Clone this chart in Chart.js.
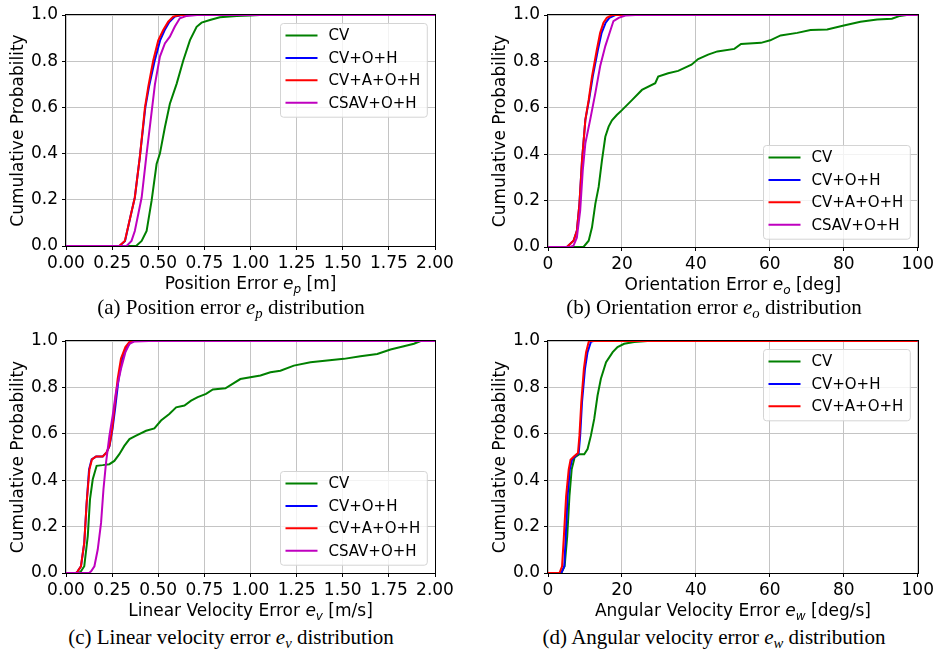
<!DOCTYPE html>
<html>
<head>
<meta charset="utf-8">
<script src="https://cdn.jsdelivr.net/npm/chart.js@4.4.1/dist/chart.umd.min.js"></script>
<style>
body { margin: 0; background: #fff; }
#page { position: relative; width: 937px; height: 650px; overflow: hidden; background: #fff; }
.panel { position: absolute; }
.caption { position: absolute; width: 470px; text-align: center; font-family: "Liberation Serif", "Times New Roman", serif;
  font-size: 21px; line-height: 21px; color: #000; white-space: nowrap; }
.caption sub { font-size: 0.7em; vertical-align: -0.25em; line-height: 0; }
</style>
</head>
<body>
<div id="page">
  <canvas class="panel" id="chartA" width="470" height="300" style="left:0;top:0"></canvas>
  <canvas class="panel" id="chartB" width="467" height="300" style="left:470px;top:0"></canvas>
  <canvas class="panel" id="chartC" width="470" height="300" style="left:0;top:325px"></canvas>
  <canvas class="panel" id="chartD" width="467" height="300" style="left:470px;top:325px"></canvas>
  <div class="caption" style="left:-4px;top:297px">(a) Position error <i>e<sub>p</sub></i> distribution</div>
  <div class="caption" style="left:479px;top:297px">(b) Orientation error <i>e<sub>o</sub></i> distribution</div>
  <div class="caption" style="left:-4px;top:627px">(c) Linear velocity error <i>e<sub>v</sub></i> distribution</div>
  <div class="caption" style="left:479px;top:627px">(d) Angular velocity error <i>e<sub>w</sub></i> distribution</div>
</div>
<script>
// series names / colours (matplotlib g, b, r, m)
const seriesLabels = ['CV', 'CV+O+H', 'CV+A+O+H', 'CSAV+O+H'];
const seriesColors = ['#008000', '#0000ff', '#ff0000', '#bf00bf'];

// (a) position error [m] : [error, cumulative probability]
const posCV = [[0,0],[0.38,0],[0.41,0.022],[0.437,0.065],[0.464,0.196],[0.491,0.355],[0.509,0.40],[0.536,0.514],[0.563,0.616],[0.60,0.703],[0.636,0.804],[0.672,0.891],[0.708,0.949],[0.735,0.967],[0.78,0.978],[0.834,0.99],[0.925,0.996],[1.0,0.998],[1.05,1],[2,1]];
const posCVOH = [[0,0],[0.29,0],[0.32,0.022],[0.35,0.13],[0.373,0.21],[0.40,0.384],[0.43,0.60],[0.45,0.69],[0.48,0.80],[0.51,0.89],[0.535,0.935],[0.56,0.97],[0.59,0.993],[0.63,1],[2,1]];
const posCVAOH = [[0,0],[0.288,0],[0.319,0.022],[0.35,0.13],[0.373,0.21],[0.40,0.384],[0.428,0.60],[0.446,0.69],[0.473,0.804],[0.50,0.89],[0.527,0.935],[0.554,0.971],[0.581,0.993],[0.62,1],[2,1]];
const posCSAV = [[0,0],[0.328,0],[0.355,0.022],[0.373,0.065],[0.41,0.21],[0.437,0.40],[0.458,0.54],[0.482,0.70],[0.509,0.82],[0.536,0.877],[0.563,0.906],[0.59,0.95],[0.617,0.986],[0.654,0.996],[0.71,1],[2,1]];

// (b) orientation error [deg]
const oriCV = [[0,0],[9.6,0],[11.0,0.027],[11.9,0.085],[12.8,0.186],[13.7,0.259],[14.6,0.374],[15.5,0.475],[16.4,0.519],[17.3,0.546],[18.6,0.569],[20.0,0.59],[22.7,0.633],[25.4,0.677],[29,0.706],[29.8,0.735],[32.5,0.749],[35.2,0.759],[38.8,0.786],[40.6,0.81],[43.3,0.829],[45.8,0.843],[50.4,0.854],[52.2,0.875],[57.6,0.88],[60.1,0.891],[62.9,0.912],[67.4,0.923],[71,0.935],[75.5,0.938],[80,0.955],[84.5,0.971],[89,0.981],[93,0.984],[95.2,0.996],[97,1],[100,1]];
const oriCVOH = [[0,0],[5.1,0],[6.9,0.027],[7.8,0.07],[8.5,0.186],[9.2,0.374],[10.1,0.548],[11.1,0.634],[12.1,0.735],[13.5,0.85],[14.5,0.923],[15.6,0.967],[16.6,0.988],[18.2,1],[100,1]];
const oriCVAOH = [[0,0],[5.1,0],[6.9,0.027],[7.8,0.07],[8.5,0.186],[9.2,0.374],[10.1,0.548],[11.0,0.634],[11.9,0.735],[13.2,0.85],[14.1,0.923],[15.0,0.967],[15.9,0.988],[17.3,1],[100,1]];
const oriCSAV = [[0,0],[6.0,0],[6.9,0.006],[7.8,0.04],[8.7,0.157],[9.4,0.33],[10.1,0.447],[11.4,0.548],[12.8,0.663],[14.1,0.779],[15.5,0.866],[16.8,0.93],[17.7,0.974],[19.1,0.988],[20.9,0.998],[23.6,1],[100,1]];

// (c) linear velocity error [m/s]
const velCV = [[0,0],[0.07,0],[0.081,0.007],[0.099,0.029],[0.118,0.159],[0.13,0.317],[0.145,0.404],[0.166,0.462],[0.199,0.465],[0.235,0.469],[0.262,0.483],[0.289,0.512],[0.316,0.548],[0.344,0.577],[0.38,0.592],[0.434,0.613],[0.479,0.623],[0.515,0.657],[0.56,0.685],[0.597,0.714],[0.642,0.722],[0.678,0.743],[0.714,0.758],[0.759,0.772],[0.796,0.791],[0.864,0.796],[0.945,0.836],[1.054,0.851],[1.108,0.865],[1.162,0.872],[1.235,0.894],[1.325,0.908],[1.506,0.923],[1.596,0.934],[1.687,0.944],[1.759,0.963],[1.831,0.977],[1.886,0.988],[1.922,1],[2,1]];
const velCVOH = [[0,0],[0.055,0],[0.063,0.007],[0.081,0.029],[0.099,0.13],[0.112,0.303],[0.125,0.447],[0.139,0.49],[0.163,0.502],[0.199,0.502],[0.22,0.52],[0.236,0.548],[0.252,0.62],[0.266,0.707],[0.285,0.837],[0.305,0.924],[0.33,0.974],[0.352,0.996],[0.37,1],[2,1]];
const velCVAOH = [[0,0],[0.055,0],[0.063,0.007],[0.081,0.029],[0.099,0.13],[0.112,0.303],[0.127,0.447],[0.141,0.49],[0.163,0.502],[0.199,0.502],[0.22,0.52],[0.235,0.548],[0.25,0.62],[0.262,0.707],[0.28,0.837],[0.298,0.924],[0.322,0.974],[0.344,0.996],[0.362,1],[2,1]];
const velCSAV = [[0,0],[0.125,0],[0.136,0.007],[0.154,0.029],[0.172,0.101],[0.19,0.216],[0.203,0.36],[0.217,0.476],[0.235,0.59],[0.253,0.678],[0.271,0.78],[0.298,0.88],[0.322,0.952],[0.344,0.988],[0.371,0.998],[0.45,1],[2,1]];

// (d) angular velocity error [deg/s]
const angCV = [[0,0],[3.6,0],[4.5,0.029],[5.2,0.159],[5.8,0.332],[6.4,0.447],[7.2,0.498],[8.5,0.512],[9.8,0.512],[10.7,0.534],[11.6,0.592],[12.5,0.664],[13.4,0.765],[14.3,0.837],[15.7,0.909],[17.5,0.952],[18.8,0.974],[20.6,0.988],[23.3,0.996],[26.9,1],[76,1]];
const angCVOH = [[0,0],[3.6,0],[4.4,0.029],[4.8,0.159],[5.3,0.332],[5.9,0.447],[6.5,0.488],[7.3,0.502],[8.3,0.517],[8.7,0.592],[9.2,0.736],[10.0,0.88],[10.7,0.952],[11.6,0.996],[12.3,1],[100,1]];
const angCVAOH = [[0,0],[3.1,0],[3.8,0.029],[4.3,0.159],[4.9,0.332],[5.6,0.447],[6.1,0.488],[7.0,0.502],[8.1,0.517],[8.5,0.592],[9.0,0.736],[9.7,0.88],[10.3,0.952],[11.0,0.996],[11.4,1],[100,1]];

// axis ticks
const metreTicks = [0, 0.25, 0.5, 0.75, 1.0, 1.25, 1.5, 1.75, 2.0];
const degreeTicks = [0, 20, 40, 60, 80, 100];
const probTicks = [0, 0.2, 0.4, 0.6, 0.8, 1.0];

Chart.defaults.font.family = '"DejaVu Sans", sans-serif';
Chart.defaults.color = '#000';

// axis titles with an italic e and subscript, like matplotlib mathtext
const mathTitles = {
    id: 'mathTitles',
    afterDraw(chart, args, opts) {
        const ctx = chart.ctx, a = chart.chartArea;
        const fontOf = s => s === 'sub' ? 'oblique 12px "DejaVu Sans"' : (s === 'it' ? 'oblique 17px "DejaVu Sans"' : '17px "DejaVu Sans"');
        ctx.save();
        ctx.fillStyle = '#000';
        ctx.textBaseline = 'alphabetic';
        let total = 0;
        opts.parts.forEach(p => { ctx.font = fontOf(p[1]); total += ctx.measureText(p[0]).width; });
        let x = (a.left + a.right) / 2 - total / 2;
        const base = a.bottom + 42.5;
        opts.parts.forEach(p => {
            ctx.font = fontOf(p[1]);
            ctx.fillText(p[0], x, p[1] === 'sub' ? base + 4 : base);
            x += ctx.measureText(p[0]).width;
        });
        // y title
        ctx.font = '17px "DejaVu Sans"';
        ctx.translate(a.left - 43, (a.top + a.bottom) / 2);
        ctx.rotate(-Math.PI / 2);
        ctx.textAlign = 'center';
        ctx.fillText('Cumulative Probability', 0, 0);
        ctx.restore();
    }
};

// black frame on all four sides
const frame = {
    id: 'frame',
    afterDatasetsDraw(chart) {
        const ctx = chart.ctx, a = chart.chartArea;
        ctx.save();
        ctx.strokeStyle = '#000';
        ctx.lineWidth = 1;
        ctx.strokeRect(Math.round(a.left) - 0.5, Math.round(a.top) - 0.5, Math.round(a.right - a.left) + 1, Math.round(a.bottom - a.top) + 1);
        ctx.restore();
    }
};

// matplotlib-style legend inside the axes
const boxLegend = {
    id: 'boxLegend',
    afterDraw(chart, args, opts) {
        const ctx = chart.ctx, a = chart.chartArea;
        const items = chart.data.datasets;
        ctx.save();
        ctx.font = '15px "DejaVu Sans"';
        const tw = Math.max(...items.map(d => ctx.measureText(d.label).width));
        const w = 48 + tw + 7, rowH = 22.4;
        const h = 12 + (items.length - 1) * rowH + 14.5;
        const x = Math.round(a.right - 8 - w) + 0.5;
        const y = Math.round(opts.corner === 'top' ? a.top + 8 : a.bottom - 8 - h) + 0.5;
        ctx.beginPath();
        ctx.roundRect(x, y, w, h, 3);
        ctx.fillStyle = 'rgba(255,255,255,0.8)';
        ctx.fill();
        ctx.strokeStyle = '#d4d4d4';
        ctx.lineWidth = 1;
        ctx.stroke();
        items.forEach((d, i) => {
            const cy = y + 12 + i * rowH;
            ctx.strokeStyle = d.borderColor;
            ctx.lineWidth = 2;
            ctx.beginPath();
            ctx.moveTo(x + 5, cy);
            ctx.lineTo(x + 37, cy);
            ctx.stroke();
            ctx.fillStyle = '#000';
            ctx.textBaseline = 'middle';
            ctx.fillText(d.label, x + 48, cy + 1);
        });
        ctx.restore();
    }
};

function cdfChart(id, c) {
    const datasets = c.series.map((pts, i) => ({
        label: seriesLabels[i],
        data: pts.map(p => ({ x: p[0], y: p[1] })),
        borderColor: seriesColors[i],
        borderWidth: 2,
        pointRadius: 0,
        tension: 0,
        fill: false,
        order: c.series.length - i
    }));
    const grid = { color: '#c4c4c4', lineWidth: 1, tickColor: '#000', tickLength: 4 };
    return new Chart(document.getElementById(id), {
        type: 'line',
        data: { datasets: datasets },
        options: {
            responsive: false,
            animation: false,
            devicePixelRatio: 1,
            layout: { padding: c.padding },
            plugins: {
                legend: { display: false },
                tooltip: { enabled: false },
                mathTitles: { parts: c.title },
                boxLegend: { corner: c.legendCorner }
            },
            scales: {
                x: {
                    type: 'linear',
                    min: c.xTicks[0],
                    max: c.xTicks[c.xTicks.length - 1],
                    afterBuildTicks: s => { s.ticks = c.xTicks.map(v => ({ value: v })); },
                    ticks: { font: { size: 17 }, color: '#000', padding: 3, maxRotation: 0, autoSkip: false,
                        callback: v => v.toFixed(c.xDec) },
                    grid: grid,
                    border: { display: false },
                    afterFit: s => { s.height = c.xAxisH; }
                },
                y: {
                    type: 'linear',
                    min: 0,
                    max: 1,
                    afterBuildTicks: s => { s.ticks = probTicks.map(v => ({ value: v })); },
                    ticks: { font: { size: 17 }, color: '#000', padding: 4, autoSkip: false,
                        callback: v => v.toFixed(1) },
                    grid: grid,
                    border: { display: false },
                    afterFit: s => { s.width = c.yAxisW; }
                }
            }
        },
        plugins: [frame, mathTitles, boxLegend]
    });
}

cdfChart('chartA', {
    series: [posCV, posCVOH, posCVAOH, posCSAV], xTicks: metreTicks, xDec: 2,
    padding: { top: 15, right: 35, left: 0, bottom: 0 }, yAxisW: 66, xAxisH: 54, legendCorner: 'top',
    title: [['Position Error ', 'n'], ['e', 'it'], ['p', 'sub'], [' [m]', 'n']]
});
cdfChart('chartB', {
    series: [oriCV, oriCVOH, oriCVAOH, oriCSAV], xTicks: degreeTicks, xDec: 0,
    padding: { top: 15, right: 16, left: 0, bottom: 0 }, yAxisW: 78, xAxisH: 53, legendCorner: 'bottom',
    title: [['Orientation Error ', 'n'], ['e', 'it'], ['o', 'sub'], [' [deg]', 'n']]
});
cdfChart('chartC', {
    series: [velCV, velCVOH, velCVAOH, velCSAV], xTicks: metreTicks, xDec: 2,
    padding: { top: 16, right: 35, left: 0, bottom: 0 }, yAxisW: 66, xAxisH: 52, legendCorner: 'bottom',
    title: [['Linear Velocity Error ', 'n'], ['e', 'it'], ['v', 'sub'], [' [m/s]', 'n']]
});
cdfChart('chartD', {
    series: [angCV, angCVOH, angCVAOH], xTicks: degreeTicks, xDec: 0,
    padding: { top: 16, right: 16, left: 0, bottom: 0 }, yAxisW: 78, xAxisH: 52, legendCorner: 'top',
    title: [['Angular Velocity Error ', 'n'], ['e', 'it'], ['w', 'sub'], [' [deg/s]', 'n']]
});
</script>
</body>
</html>
